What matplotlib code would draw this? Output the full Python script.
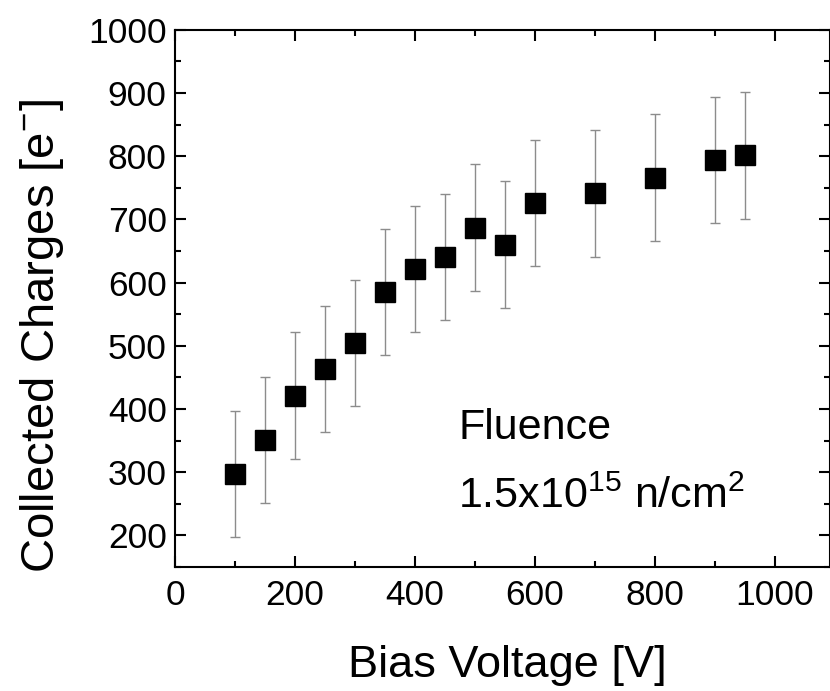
import matplotlib
matplotlib.use('Agg')
import matplotlib.pyplot as plt
from matplotlib.ticker import MultipleLocator

plt.rcParams['font.family'] = ['Liberation Sans', 'DejaVu Sans']
plt.rcParams['mathtext.fontset'] = 'custom'
plt.rcParams['mathtext.rm'] = 'Liberation Sans'
plt.rcParams['mathtext.it'] = 'Liberation Sans:italic'
plt.rcParams['mathtext.bf'] = 'Liberation Sans:bold'

# data
bias = [100, 150, 200, 250, 300, 350, 400, 450, 500, 550, 600, 700, 800, 900, 950]
charge = [297, 351, 421, 463, 504, 585, 621, 640, 687, 660, 726, 741, 766, 794, 801]
err = [100, 100, 100, 100, 100, 100, 100, 100, 100, 100, 100, 100, 100, 100, 100]

fig = plt.figure(figsize=(8.30, 6.91), dpi=100)
ax = fig.add_axes([0.2108, 0.1795, 0.7892, 0.7775])

ax.errorbar(bias, charge, yerr=err, fmt='none', ecolor='#8c8c8c',
            elinewidth=1.0, capsize=3.5, capthick=1.0, zorder=2)
ax.plot(bias, charge, 's', color='black', markersize=14, zorder=3)

ax.set_xlim(0, 1092)
ax.set_ylim(150, 1000)
ax.xaxis.set_major_locator(MultipleLocator(200))
ax.xaxis.set_minor_locator(MultipleLocator(100))
ax.yaxis.set_major_locator(MultipleLocator(100))
ax.yaxis.set_minor_locator(MultipleLocator(50))

ax.tick_params(which='both', direction='in', top=True, right=True, width=1.5)
ax.tick_params(which='major', length=8, labelsize=25.5)
ax.tick_params(axis='x', which='major', pad=9)
ax.tick_params(axis='y', which='major', pad=6)
ax.tick_params(which='minor', length=4.5)
for sp in ax.spines.values():
    sp.set_linewidth(1.5)

ax.set_xlabel('Bias Voltage [V]', fontsize=32.5)
ax.set_ylabel(r'Collected Charges [e$^{\mathrm{-}}$]', fontsize=34)
ax.xaxis.set_label_coords(0.507, -0.145)
ax.yaxis.set_label_coords(-0.166, 0.43)

ax.text(472, 352, 'Fluence', fontsize=31)
ax.text(472, 243, r'1.5x10$^{15}$ n/cm$^{2}$', fontsize=31)

fig.savefig('out.png', dpi=100)
